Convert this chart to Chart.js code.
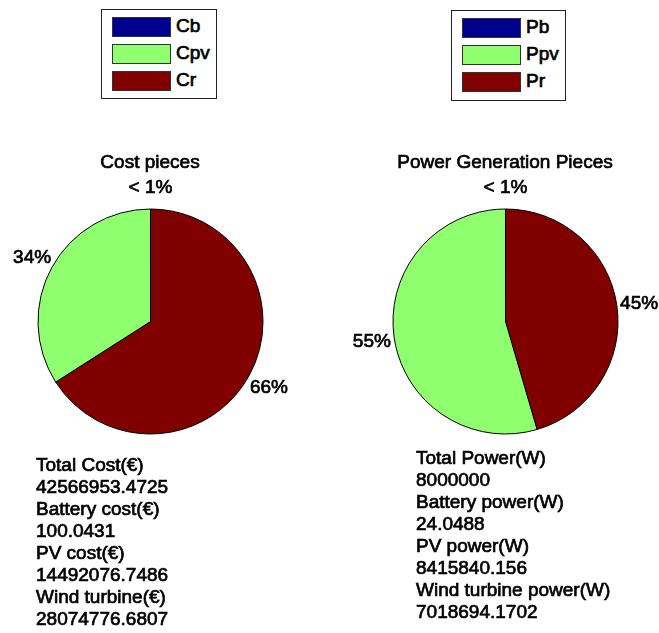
<!DOCTYPE html>
<html>
<head>
<meta charset="utf-8">
<script src="https://cdn.jsdelivr.net/npm/chart.js@4"></script>
<style>
  body { margin: 0; background: #fff; width: 659px; height: 633px; overflow: hidden; position: relative;
         font-family: "Liberation Sans", Arial, sans-serif; font-size: 19px; color: #000; }
  canvas { position: absolute; left: 0; top: 0; }
  .txt { position: absolute; line-height: 22px; white-space: nowrap; -webkit-text-stroke: 0.7px #000; }
  .title { position: absolute; line-height: 22px; white-space: nowrap; text-align: center; width: 300px; -webkit-text-stroke: 0.7px #000; }
  .legend { position: absolute; border: 1px solid #222; background: #fff; }
  .legend .row { position: absolute; left: 10px; height: 19px; }
  .legend .sw { position: absolute; left: 0; top: 0; width: 57px; height: 18px; border: 1px solid #333; }
  .legend .lb { position: absolute; left: 64px; top: -2px; line-height: 22px; -webkit-text-stroke: 0.7px #000; }
</style>
</head>
<body>
<canvas id="costPie" width="659" height="633"></canvas>
<canvas id="powerPie" width="659" height="633"></canvas>

<div class="legend" id="costLegend" style="left:101px; top:9px; width:114px; height:88px;"></div>
<div class="legend" id="powerLegend" style="left:451px; top:10px; width:113px; height:89px;"></div>

<div class="title" style="left:0px; top:151px;">Cost pieces</div>
<div class="title" style="left:355px; top:151px;">Power Generation Pieces</div>

<div class="txt" id="costText" style="left:36px; top:454px;"></div>
<div class="txt" id="powerText" style="left:416px; top:447px;"></div>

<script>
// data
const costLabels = ['Cb', 'Cpv', 'Cr'];
const costValues = [100.0431, 14492076.7486, 28074776.6807];
const totalCost = '42566953.4725';
const costCaptions = ['Battery cost(€)', 'PV cost(€)', 'Wind turbine(€)'];

const powerLabels = ['Pb', 'Ppv', 'Pr'];
const powerValues = [24.0488, 8415840.156, 7018694.1702];
const totalPower = '8000000';
const powerCaptions = ['Battery power(W)', 'PV power(W)', 'Wind turbine power(W)'];

const pieColors = ['#00008F', '#8FFF70', '#800000'];

function pctLabel(v, arr) {
    const sum = arr.reduce((a, b) => a + b, 0);
    const p = v / sum * 100;
    return p < 1 ? '< 1%' : Math.round(p) + '%';
}

// matlab style percent labels, at 1.2 R on the mid angle of each slice
const pctPlugin = {
    id: 'pctLabels',
    afterDatasetsDraw(chart) {
        const ctx = chart.ctx;
        const vals = chart.data.datasets[0].data;
        ctx.save();
        ctx.font = '19px "Liberation Sans", Arial, sans-serif';
        ctx.fillStyle = '#000';
        ctx.strokeStyle = '#000';
        ctx.lineWidth = 0.7;
        ctx.textAlign = 'center';
        ctx.textBaseline = 'middle';
        chart.getDatasetMeta(0).data.forEach((arc, i) => {
            const p = arc.getProps(['x', 'y', 'startAngle', 'endAngle', 'outerRadius'], true);
            const mid = (p.startAngle + p.endAngle) / 2;
            const x = p.x + Math.cos(mid) * p.outerRadius * 1.2;
            const y = p.y + Math.sin(mid) * p.outerRadius * 1.2 + 1;
            const t = pctLabel(vals[i], vals);
            ctx.strokeText(t, x, y);
            ctx.fillText(t, x, y);
        });
        ctx.restore();
    }
};

// matlab draws counter clockwise, chart.js clockwise -> reversed order
function makePie(id, labels, values, pad) {
    return new Chart(document.getElementById(id), {
        type: 'pie',
        data: {
            labels: labels.slice().reverse(),
            datasets: [{
                data: values.slice().reverse(),
                backgroundColor: pieColors.slice().reverse(),
                borderColor: '#000',
                borderWidth: 1,
                radius: 112.5
            }]
        },
        options: {
            responsive: false,
            animation: false,
            layout: { padding: pad },
            plugins: { legend: { display: false }, tooltip: { enabled: false } }
        },
        plugins: [pctPlugin]
    });
}

makePie('costPie', costLabels, costValues, { left: 0, top: 171, right: 358, bottom: 161 });
makePie('powerPie', powerLabels, powerValues, { left: 355, top: 171, right: 3, bottom: 161 });

function buildLegend(id, labels) {
    const box = document.getElementById(id);
    labels.forEach((l, i) => {
        const row = document.createElement('div');
        row.className = 'row';
        row.style.top = (7 + i * 27) + 'px';
        row.innerHTML = '<div class="sw" style="background:' + pieColors[i] + '"></div><div class="lb">' + l + '</div>';
        box.appendChild(row);
    });
}
buildLegend('costLegend', costLabels);
buildLegend('powerLegend', powerLabels);

function buildText(id, totalCaption, total, captions, values) {
    const lines = [totalCaption, total];
    captions.forEach((c, i) => { lines.push(c); lines.push(String(values[i])); });
    document.getElementById(id).innerHTML = lines.join('<br>');
}
buildText('costText', 'Total Cost(€)', totalCost, costCaptions, costValues);
buildText('powerText', 'Total Power(W)', totalPower, powerCaptions, powerValues);
</script>
</body>
</html>
